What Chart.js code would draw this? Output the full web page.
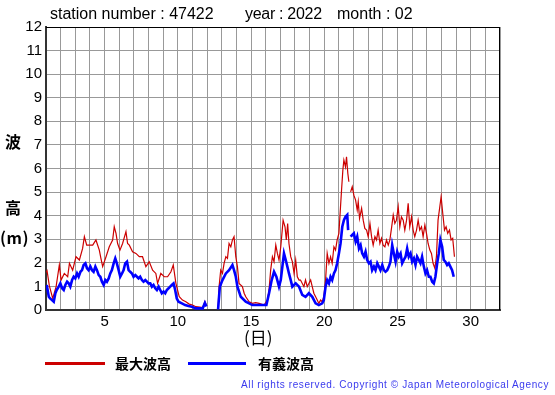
<!DOCTYPE html>
<html><head><meta charset="utf-8">
<script src="https://cdn.jsdelivr.net/npm/chart.js@4"></script>
<style>
html,body{margin:0;padding:0;background:#fff;}
#wrap{position:relative;width:555px;height:395px;overflow:hidden;background:#fff;}
canvas{position:absolute;left:0;top:0;}
.t{position:absolute;white-space:nowrap;font-family:"Liberation Sans",Arial,sans-serif;color:#000;line-height:1;}
.cjk{font-family:"Noto Sans CJK JP",sans-serif;font-weight:bold;}
.lg{position:absolute;height:3px;}
</style></head>
<body><div id="wrap"><canvas id="c" width="555" height="395"></canvas>
<div class="t" style="left:50px;top:6px;font-size:16px;">station number : 47422</div>
<div class="t" style="left:245px;top:6px;font-size:16px;letter-spacing:-0.3px;">year : 2022</div>
<div class="t" style="left:337px;top:6px;font-size:16px;">month : 02</div>
<div class="t cjk" style="left:5px;top:133px;font-size:16px;">波</div>
<div class="t cjk" style="left:5px;top:199px;font-size:16px;">高</div>
<div class="t cjk" style="left:0px;top:229px;font-size:16px;letter-spacing:0.5px;">(m)</div>
<div class="t cjk" style="left:244px;top:328px;font-size:17px;font-weight:normal;">(日)</div>
<div class="lg" style="left:45px;top:362px;width:60px;background:#cc0000;"></div>
<div class="t cjk" style="left:115px;top:356px;font-size:14px;">最大波高</div>
<div class="lg" style="left:188px;top:362px;width:58px;background:#0000ff;"></div>
<div class="t cjk" style="left:258px;top:356px;font-size:14px;">有義波高</div>
<div class="t" style="right:6px;top:380px;font-size:10px;letter-spacing:0.6px;color:#3a3aee;">All rights reserved. Copyright © Japan Meteorological Agency</div>
</div>
<script>
const xTicks = [5, 10, 15, 20, 25, 30];
const maxDay = [1.0,1.07,1.23,1.46,1.69,1.91,2.03,2.25,2.48,2.60,2.82,3.05,3.28,3.50,3.62,3.78,3.96,4.19,4.41,4.64,4.75,4.87,5.10,5.32,5.55,5.66,5.78,5.89,6.05,6.23,6.46,6.57,6.69,6.91,7.14,7.37,7.59,7.82,8.05,8.28,8.50,8.62,8.84,9.07,9.30,9.53,9.69,9.87,10.10,10.32,10.55,10.78,11.0,11.23,11.5,11.7,11.85,11.95,12.3,12.75,12.82,12.93,13.05,13.16,13.28,13.39,13.50,13.62,13.73,13.84,13.96,14.07,14.18,14.41,14.53,14.64,14.87,15.09,15.32,15.55,15.89,16.12,16.23,16.34,16.46,16.57,16.69,16.80,16.91,17.03,17.19,17.32,17.41,17.50,17.59,17.71,17.82,17.94,18.05,18.16,18.28,18.38,18.61,18.72,18.84,19.07,19.18,19.29,19.41,19.52,19.63,19.75,19.86,19.97,20.09,20.20,20.32,20.43,20.54,20.66,20.77,20.88,21.0,21.11,21.18,21.27,21.34,21.45,21.52,21.61,21.68,21.72,21.80,21.91,22.02,22.14,22.25,22.32,22.41,22.55,22.66,22.77,22.89,23.0,23.12,23.23,23.34,23.46,23.57,23.68,23.80,23.91,24.02,24.14,24.25,24.37,24.48,24.59,24.71,24.82,24.93,25.05,25.16,25.27,25.39,25.50,25.62,25.73,25.84,25.96,26.07,26.18,26.30,26.41,26.52,26.64,26.75,26.87,26.98,27.09,27.21,27.32,27.43,27.55,27.66,27.77,27.89,27.98,28.09,28.21,28.32,28.43,28.55,28.66,28.77,28.89];
const maxWave = [1.60,1.67,1.02,0.49,0.99,1.91,1.27,1.55,1.41,1.98,1.69,2.26,2.12,2.61,3.11,2.75,2.75,2.75,2.97,2.54,2.19,1.84,2.26,2.68,2.97,3.53,3.25,2.82,2.54,2.82,3.32,2.82,2.75,2.47,2.40,2.26,2.26,1.84,2.05,1.69,1.55,1.13,1.55,1.41,1.41,1.62,1.91,1.13,0.56,0.42,0.35,0.25,0.21,0.14,0.12,0.10,0.35,0.20,null,0.05,0.99,1.69,1.55,1.98,2.26,2.19,2.82,2.68,2.97,3.11,2.26,1.84,1.13,0.99,0.71,0.56,0.35,0.28,0.31,0.28,0.21,0.42,0.85,1.69,2.26,2.05,2.75,2.40,2.12,2.68,3.81,3.53,2.97,3.67,2.82,2.26,2.05,1.55,2.12,1.41,1.27,1.27,0.99,1.27,0.99,1.27,0.99,0.71,0.56,0.42,0.28,0.42,0.35,0.56,1.27,2.40,1.98,2.26,1.98,2.68,2.54,2.97,3.25,4.38,5.08,5.93,6.36,6.07,6.50,5.79,5.44,null,5.01,5.23,4.87,4.66,4.24,4.59,3.88,4.31,3.81,3.46,3.39,3.11,3.67,3.11,2.75,3.11,2.97,3.39,2.82,3.04,2.75,2.68,2.97,2.75,2.97,3.46,4.03,3.67,3.81,4.38,3.53,3.95,3.81,3.39,3.81,4.52,3.53,3.95,3.39,3.11,3.39,3.81,3.39,3.53,3.11,3.60,3.25,2.82,2.54,2.40,1.98,1.77,2.26,3.81,4.38,4.80,4.10,3.39,3.53,3.25,3.39,2.97,3.04,2.26];
const sigDay = [1.0,1.05,1.19,1.28,1.41,1.53,1.64,1.73,1.87,1.98,2.10,2.21,2.32,2.44,2.55,2.66,2.78,2.89,3.00,3.12,3.23,3.35,3.46,3.57,3.69,3.80,3.91,4.03,4.14,4.25,4.37,4.48,4.60,4.71,4.82,4.94,5.05,5.16,5.28,5.39,5.50,5.62,5.73,5.84,5.96,6.07,6.19,6.30,6.41,6.53,6.64,6.75,6.87,6.98,7.10,7.21,7.32,7.43,7.55,7.66,7.78,7.89,8.00,8.12,8.23,8.34,8.46,8.57,8.69,8.80,8.91,9.03,9.14,9.25,9.37,9.48,9.59,9.71,9.82,9.93,10.05,10.28,10.50,10.73,10.96,11.23,11.5,11.7,11.85,11.95,12.3,12.75,12.87,13.05,13.28,13.50,13.73,13.84,13.96,14.07,14.30,14.64,15.09,15.78,16.05,16.23,16.41,16.57,16.73,16.91,17.03,17.14,17.25,17.37,17.48,17.59,17.71,17.82,18.05,18.28,18.50,18.72,18.95,19.18,19.41,19.63,19.86,19.97,20.09,20.20,20.32,20.43,20.54,20.66,20.77,20.88,21.0,21.11,21.23,21.34,21.45,21.57,21.63,21.72,21.80,21.91,22.02,22.14,22.25,22.37,22.48,22.59,22.71,22.82,22.93,23.05,23.16,23.27,23.39,23.50,23.62,23.73,23.84,23.96,24.07,24.18,24.30,24.41,24.52,24.64,24.75,24.87,24.98,25.09,25.21,25.32,25.43,25.55,25.66,25.77,25.89,26.00,26.12,26.23,26.34,26.46,26.57,26.68,26.80,26.91,27.02,27.14,27.25,27.37,27.48,27.59,27.71,27.82,27.93,28.05,28.16,28.27,28.39,28.50,28.61,28.73,28.84];
const sigWave = [1.00,1.06,0.56,0.49,0.42,0.35,0.71,0.85,0.99,1.13,0.92,0.85,1.06,1.20,1.13,0.99,1.27,1.41,1.34,1.55,1.41,1.62,1.69,1.91,1.98,1.77,1.69,1.84,1.69,1.62,1.84,1.69,1.48,1.41,1.20,1.06,1.27,1.20,1.34,1.55,1.69,1.98,2.19,1.98,1.69,1.41,1.55,1.69,1.98,2.05,1.69,1.62,1.55,1.41,1.48,1.41,1.34,1.41,1.27,1.20,1.27,1.20,1.13,1.13,0.99,1.06,0.92,0.85,0.99,0.85,0.71,0.78,0.71,0.85,0.92,0.99,1.06,1.13,0.85,0.49,0.35,0.28,0.21,0.17,0.14,0.07,0.07,0.07,0.30,0.15,null,0.03,0.99,1.27,1.55,1.69,1.91,1.69,1.41,0.99,0.56,0.35,0.21,0.21,0.21,0.71,1.27,1.62,1.41,0.99,1.27,1.84,2.40,2.12,1.84,1.55,1.27,0.99,1.13,0.99,0.64,0.56,0.71,0.56,0.28,0.21,0.28,0.42,0.99,1.27,1.13,1.41,1.27,1.55,1.69,1.98,2.40,2.82,3.53,3.81,3.95,4.03,3.39,null,3.11,3.18,3.25,2.90,3.11,2.61,2.75,2.40,2.26,2.47,2.12,1.98,2.05,1.69,1.84,1.69,1.98,1.84,1.69,1.91,1.69,1.62,1.69,1.84,2.05,2.75,2.40,2.05,2.47,2.26,2.40,1.98,2.12,2.26,2.61,2.26,2.40,2.05,2.19,1.91,2.26,2.12,1.98,2.26,1.84,1.55,1.69,1.41,1.41,1.20,1.13,1.41,1.98,2.40,2.97,2.68,2.12,2.05,1.91,1.98,1.84,1.69,1.41];

const pts = (xs, ys) => xs.map((x, i) => ({x: x, y: ys[i]}));

const frame = {
  id: 'frame',
  afterDatasetsDraw(chart) {
    const a = chart.chartArea, c = chart.ctx;
    c.save();
    c.strokeStyle = '#000';
    c.lineWidth = 1;
    c.beginPath();
    c.moveTo(a.left, a.top + 0.5); c.lineTo(a.right, a.top + 0.5);
    c.moveTo(a.right - 0.5, a.top); c.lineTo(a.right - 0.5, a.bottom);
    c.stroke();
    c.restore();
  }
};

new Chart(document.getElementById('c'), {
  type: 'line',
  data: {
    datasets: [
      {label: '有義波高', data: pts(sigDay, sigWave), borderColor: '#0000ff', borderWidth: 2.6, order: 0, spanGaps: false},
      {label: '最大波高', data: pts(maxDay, maxWave), borderColor: '#cc0000', borderWidth: 1.2, order: 1, spanGaps: false}
    ]
  },
  options: {
    responsive: false, animation: false, devicePixelRatio: 1,
    layout: {padding: {left: 0, top: 27, right: 55, bottom: 0}},
    plugins: {legend: {display: false}, tooltip: {enabled: false}},
    elements: {point: {radius: 0}, line: {tension: 0}},
    scales: {
      x: {
        type: 'linear', min: 1, max: 32,
        ticks: {stepSize: 1, autoSkip: false, maxRotation: 0, color: '#000', padding: 3,
          font: {family: 'Liberation Sans', size: 15},
          callback: v => xTicks.includes(v) ? String(v) : ''},
        grid: {color: '#999', lineWidth: 1, drawTicks: false},
        border: {color: '#333', width: 2},
        afterFit: s => { s.height = 85; }
      },
      y: {
        min: 0, max: 12,
        ticks: {stepSize: 1, color: '#000', padding: 4,
          font: {family: 'Liberation Sans', size: 15}},
        grid: {color: '#999', lineWidth: 1, drawTicks: false},
        border: {color: '#333', width: 2},
        afterFit: s => { s.width = 46; }
      }
    }
  },
  plugins: [frame]
});
</script>
</body></html>
